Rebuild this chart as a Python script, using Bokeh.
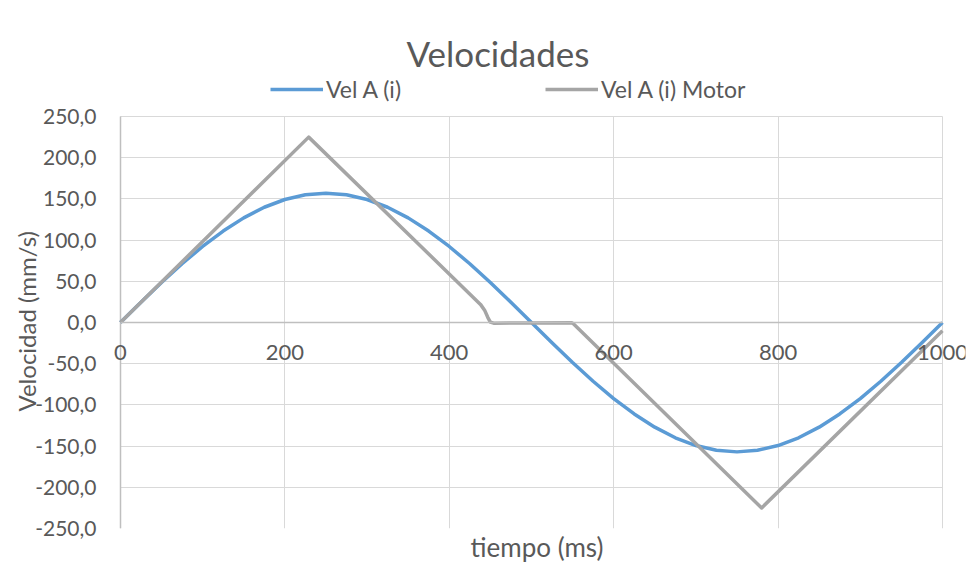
from bokeh.plotting import figure
from bokeh.models import (FixedTicker, CustomJSTickFormatter, LinearAxis, Legend,
                          LegendItem, Range1d, Grid, Title)
from bokeh.embed import file_html
from bokeh.resources import INLINE

# ---- data ----
tiempo_a = [0, 25, 50, 75, 100, 125, 150, 175, 200, 225, 250, 275, 300, 325, 350,
            375, 400, 425, 450, 475, 500, 525, 550, 575, 600, 625, 650, 675, 700,
            725, 750, 775, 800, 825, 850, 875, 900, 925, 950, 975, 1000]
vel_a = [0.0, 24.6, 48.5, 71.3, 92.3, 111.0, 127.0, 139.9, 149.3, 155.1, 157.0,
         155.1, 149.3, 139.9, 127.0, 111.0, 92.3, 71.3, 48.5, 24.6, 0.0,
         -24.6, -48.5, -71.3, -92.3, -111.0, -127.0, -139.9, -149.3, -155.1, -157.0,
         -155.1, -149.3, -139.9, -127.0, -111.0, -92.3, -71.3, -48.5, -24.6, 0.0]

tiempo_motor = [0, 229, 438, 443, 447, 450, 454, 500, 549, 551, 780, 1000]
vel_motor = [0.0, 225.0, 22.0, 15.0, 6.0, 0.5, -0.8, -0.5, -0.3, -1.5, -225.0, -10.0]

x_ticks = [0, 200, 400, 600, 800, 1000]
y_ticks = [-250, -200, -150, -100, -50, 0, 50, 100, 150, 200, 250]
x_lim = (0, 1000)
y_lim = (-250, 250)

FONT = "Lato"
TXT = "#595959"
BLUE = "#5B9BD5"
GRAY = "#A5A5A5"

p = figure(width=973, height=566, output_backend="svg", toolbar_location=None,
           title="Velocidades", x_range=Range1d(-14.5, 1028), y_range=Range1d(-250, 318),
           min_border_left=108, min_border_right=8, min_border_top=60,
           min_border_bottom=38)
p.outline_line_color = None

p.title.align = "left"
p.title.offset = 298
p.title.standoff = -27
p.title.text_font = FONT
p.title.text_font_size = "35px"
p.title.text_font_style = "normal"
p.title.text_color = TXT

HAS_CROSS = "cross_bounds" in Grid.properties()

def limit(grid, own, cross):
    if HAS_CROSS:
        grid.bounds = own
        grid.cross_bounds = cross
    else:
        grid.bounds = cross

p.xgrid.ticker = FixedTicker(ticks=x_ticks)
p.ygrid.ticker = FixedTicker(ticks=y_ticks)
for g in (p.xgrid, p.ygrid):
    g.grid_line_color = "#D9D9D9"
    g.grid_line_width = 1
limit(p.xgrid[0], x_lim, y_lim)
limit(p.ygrid[0], y_lim, x_lim)

# darker vertical axis line at x = 0
g0 = Grid(dimension=0, ticker=FixedTicker(ticks=[0]),
          grid_line_color="#BFBFBF", grid_line_width=1.5)
limit(g0, x_lim, y_lim)
p.add_layout(g0)

r1 = p.line(tiempo_a, vel_a, line_color=BLUE, line_width=3.5, line_join="round")
r2 = p.line(tiempo_motor, vel_motor, line_color=GRAY, line_width=3.5, line_join="round")

# x axis crossing at 0
xa = p.xaxis[0]
xa.ticker = FixedTicker(ticks=x_ticks)
xa.fixed_location = 0
xa.bounds = x_lim
xa.axis_line_color = "#BFBFBF"
xa.axis_line_width = 1.5
xa.major_tick_line_color = None
xa.minor_tick_line_color = None
xa.major_label_standoff = 16
xa.major_label_text_font = FONT
xa.major_label_text_font_size = "22px"
xa.major_label_text_color = TXT

# x axis title at bottom
xl = LinearAxis(axis_label="tiempo (ms)", ticker=FixedTicker(ticks=[]),
                axis_line_color=None, major_tick_line_color=None,
                minor_tick_line_color=None, major_label_text_font_size="0px",
                axis_label_standoff=2)
xl.axis_label_text_font = FONT
xl.axis_label_text_font_size = "26px"
xl.axis_label_text_font_style = "normal"
xl.axis_label_text_color = TXT
p.add_layout(xl, "below")

# y axis
ya = p.yaxis[0]
ya.ticker = FixedTicker(ticks=y_ticks)
ya.bounds = y_lim
ya.formatter = CustomJSTickFormatter(code="return tick.toFixed(1).replace('.', ',');")
ya.axis_line_color = None
ya.major_tick_line_color = None
ya.minor_tick_line_color = None
ya.major_label_standoff = 6
ya.major_label_text_font = FONT
ya.major_label_text_font_size = "21px"
ya.major_label_text_color = TXT

ytitle = Title(text="Velocidad (mm/s)", align="left", offset=117, standoff=-16,
               text_font=FONT, text_font_size="24px", text_font_style="normal",
               text_color=TXT)
p.add_layout(ytitle, "left")

legend = Legend(items=[LegendItem(label="Vel A (i)", renderers=[r1]),
                       LegendItem(label="Vel A (i) Motor", renderers=[r2])],
                orientation="horizontal", location=(162, 425),
                glyph_width=53, label_width=202, label_standoff=3, spacing=17,
                padding=0, margin=0, border_line_color=None,
                background_fill_alpha=0,
                label_text_font=FONT, label_text_font_size="23px",
                label_text_color=TXT)
p.add_layout(legend, "center")

open("out.html", "w").write(file_html(p, INLINE))
